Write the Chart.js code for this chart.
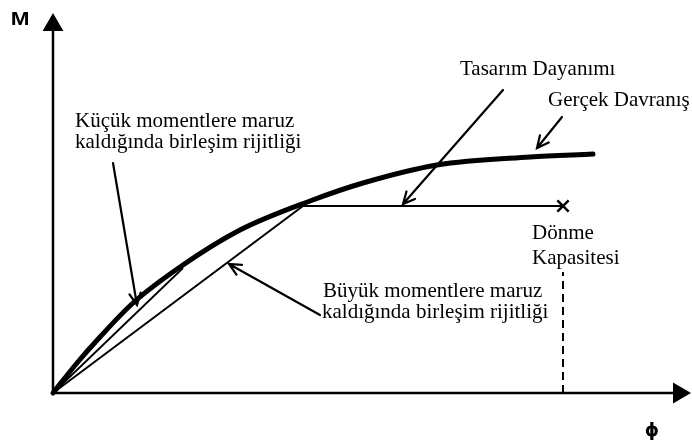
<!DOCTYPE html>
<html>
<head>
<meta charset="utf-8">
<script src="https://cdn.jsdelivr.net/npm/chart.js@4.4.0/dist/chart.umd.min.js"></script>
<style>
body { margin: 0; background: #fff; }
</style>
</head>
<body>
<canvas id="mphiChart" width="692" height="443"></canvas>
<script>
// M - phi sketch (arbitrary units)
var realPhi = [0, 2.4, 4.7, 8.0, 12.7, 18.7, 25.7, 31.0, 38.4, 47.7, 54.0];
var realM = [0, 3.0, 5.6, 9.0, 12.6, 16.3, 19.2, 21.0, 22.8, 23.6, 23.9];
var designPhi = [0, 25.0, 51.0];
var designM = [0, 18.7, 18.7];
var smallPhi = [0, 13.0];
var smallM = [0, 12.5];
var capacityPhi = [51.0, 51.0];
var capacityM = [0, 12.1];
var axisPhi = [0, 62.6];
var axisM = [0, 36.8];

function pts(xs, ys) {
    return xs.map(function (x, i) { return { x: x, y: ys[i] }; });
}

// annotation arrows and texts (data units)
var arrows = [
    { from: [45.0, 30.3], to: [35.0, 18.9] },
    { from: [50.9, 27.6], to: [48.4, 24.5] },
    { from: [6.0, 23.0], to: [8.4, 8.8] },
    { from: [26.7, 7.8], to: [17.6, 12.9] }
];
var labels = [
    { text: 'Tasarım Dayanımı', at: [40.7, 31.8] },
    { text: 'Gerçek Davranış', at: [49.5, 28.7] },
    { text: 'Küçük momentlere maruz', at: [2.2, 26.6] },
    { text: 'kaldığında birleşim rijitliği', at: [2.2, 24.5] },
    { text: 'Dönme', at: [47.9, 15.4] },
    { text: 'Kapasitesi', at: [47.9, 12.9] },
    { text: 'Büyük momentlere maruz', at: [27.0, 9.6] },
    { text: 'kaldığında birleşim rijitliği', at: [26.9, 7.5] }
];

var sketchPlugin = {
    id: 'sketch',
    afterDatasetsDraw: function (chart) {
        var ctx = chart.ctx;
        var xs = chart.scales.x, ys = chart.scales.y;
        ctx.save();
        ctx.strokeStyle = '#000';
        ctx.fillStyle = '#000';
        ctx.lineWidth = 2.2;
        ctx.lineCap = 'round';
        arrows.forEach(function (a) {
            var sx = xs.getPixelForValue(a.from[0]), sy = ys.getPixelForValue(a.from[1]);
            var tx = xs.getPixelForValue(a.to[0]), ty = ys.getPixelForValue(a.to[1]);
            var ang = Math.atan2(ty - sy, tx - sx);
            ctx.beginPath();
            ctx.moveTo(sx, sy);
            ctx.lineTo(tx, ty);
            ctx.moveTo(tx - 13 * Math.cos(ang - 0.45), ty - 13 * Math.sin(ang - 0.45));
            ctx.lineTo(tx, ty);
            ctx.lineTo(tx - 13 * Math.cos(ang + 0.45), ty - 13 * Math.sin(ang + 0.45));
            ctx.stroke();
        });
        ctx.font = '21px "Liberation Serif", "Times New Roman", serif';
        ctx.textAlign = 'left';
        ctx.textBaseline = 'alphabetic';
        labels.forEach(function (l) {
            ctx.fillText(l.text, xs.getPixelForValue(l.at[0]), ys.getPixelForValue(l.at[1]));
        });
        // axis titles
        ctx.textAlign = 'center';
        ctx.font = 'bold 18px "Liberation Sans", Arial, sans-serif';
        ctx.save();
        ctx.translate(xs.getPixelForValue(-3.3), ys.getPixelForValue(36.8));
        ctx.scale(1.25, 1);
        ctx.fillText('M', 0, 0);
        ctx.restore();
        ctx.font = 'bold 18px "DejaVu Sans", sans-serif';
        ctx.fillText('ϕ', xs.getPixelForValue(59.9), ys.getPixelForValue(-4.3));
        ctx.restore();
    }
};

var ctx = document.getElementById('mphiChart').getContext('2d');
var myChart = new Chart(ctx, {
    type: 'scatter',
    data: {
        datasets: [
            {
                label: 'phi axis',
                data: pts(axisPhi, [0, 0]),
                showLine: true,
                borderColor: '#000',
                borderWidth: 2.5,
                pointStyle: 'triangle',
                pointRotation: 90,
                pointRadius: [0, 12],
                pointBackgroundColor: '#000',
                pointBorderWidth: 0
            },
            {
                label: 'M axis',
                data: pts([0, 0], axisM),
                showLine: true,
                borderColor: '#000',
                borderWidth: 2.5,
                pointStyle: 'triangle',
                pointRotation: 0,
                pointRadius: [0, 12],
                pointBackgroundColor: '#000',
                pointBorderWidth: 0
            },
            {
                label: 'Gerçek Davranış',
                data: pts(realPhi, realM),
                showLine: true,
                borderColor: '#000',
                borderWidth: 5,
                cubicInterpolationMode: 'monotone',
                borderCapStyle: 'round',
                pointRadius: 0
            },
            {
                label: 'Tasarım Dayanımı',
                data: pts(designPhi, designM),
                showLine: true,
                borderColor: '#000',
                borderWidth: 2,
                pointRadius: 0
            },
            {
                label: 'Dönme Kapasitesi',
                data: pts([designPhi[2]], [designM[2]]),
                pointStyle: 'crossRot',
                pointRadius: 8,
                borderColor: '#000',
                pointBorderWidth: 2.5
            },
            {
                label: 'Küçük moment rijitliği',
                data: pts(smallPhi, smallM),
                showLine: true,
                borderColor: '#000',
                borderWidth: 1.8,
                pointRadius: 0
            },
            {
                label: 'capacity',
                data: pts(capacityPhi, capacityM),
                showLine: true,
                borderColor: '#000',
                borderWidth: 2,
                borderDash: [8, 5],
                pointRadius: 0
            }
        ]
    },
    options: {
        responsive: false,
        animation: false,
        events: [],
        clip: false,
        layout: { autoPadding: false, padding: { left: 53, top: 0, right: 0, bottom: 50 } },
        plugins: { legend: { display: false }, tooltip: { enabled: false } },
        scales: {
            x: { type: 'linear', display: false, min: 0, max: 63.9 },
            y: { type: 'linear', display: false, min: 0, max: 39.3 }
        }
    },
    plugins: [sketchPlugin]
});
</script>
</body>
</html>
